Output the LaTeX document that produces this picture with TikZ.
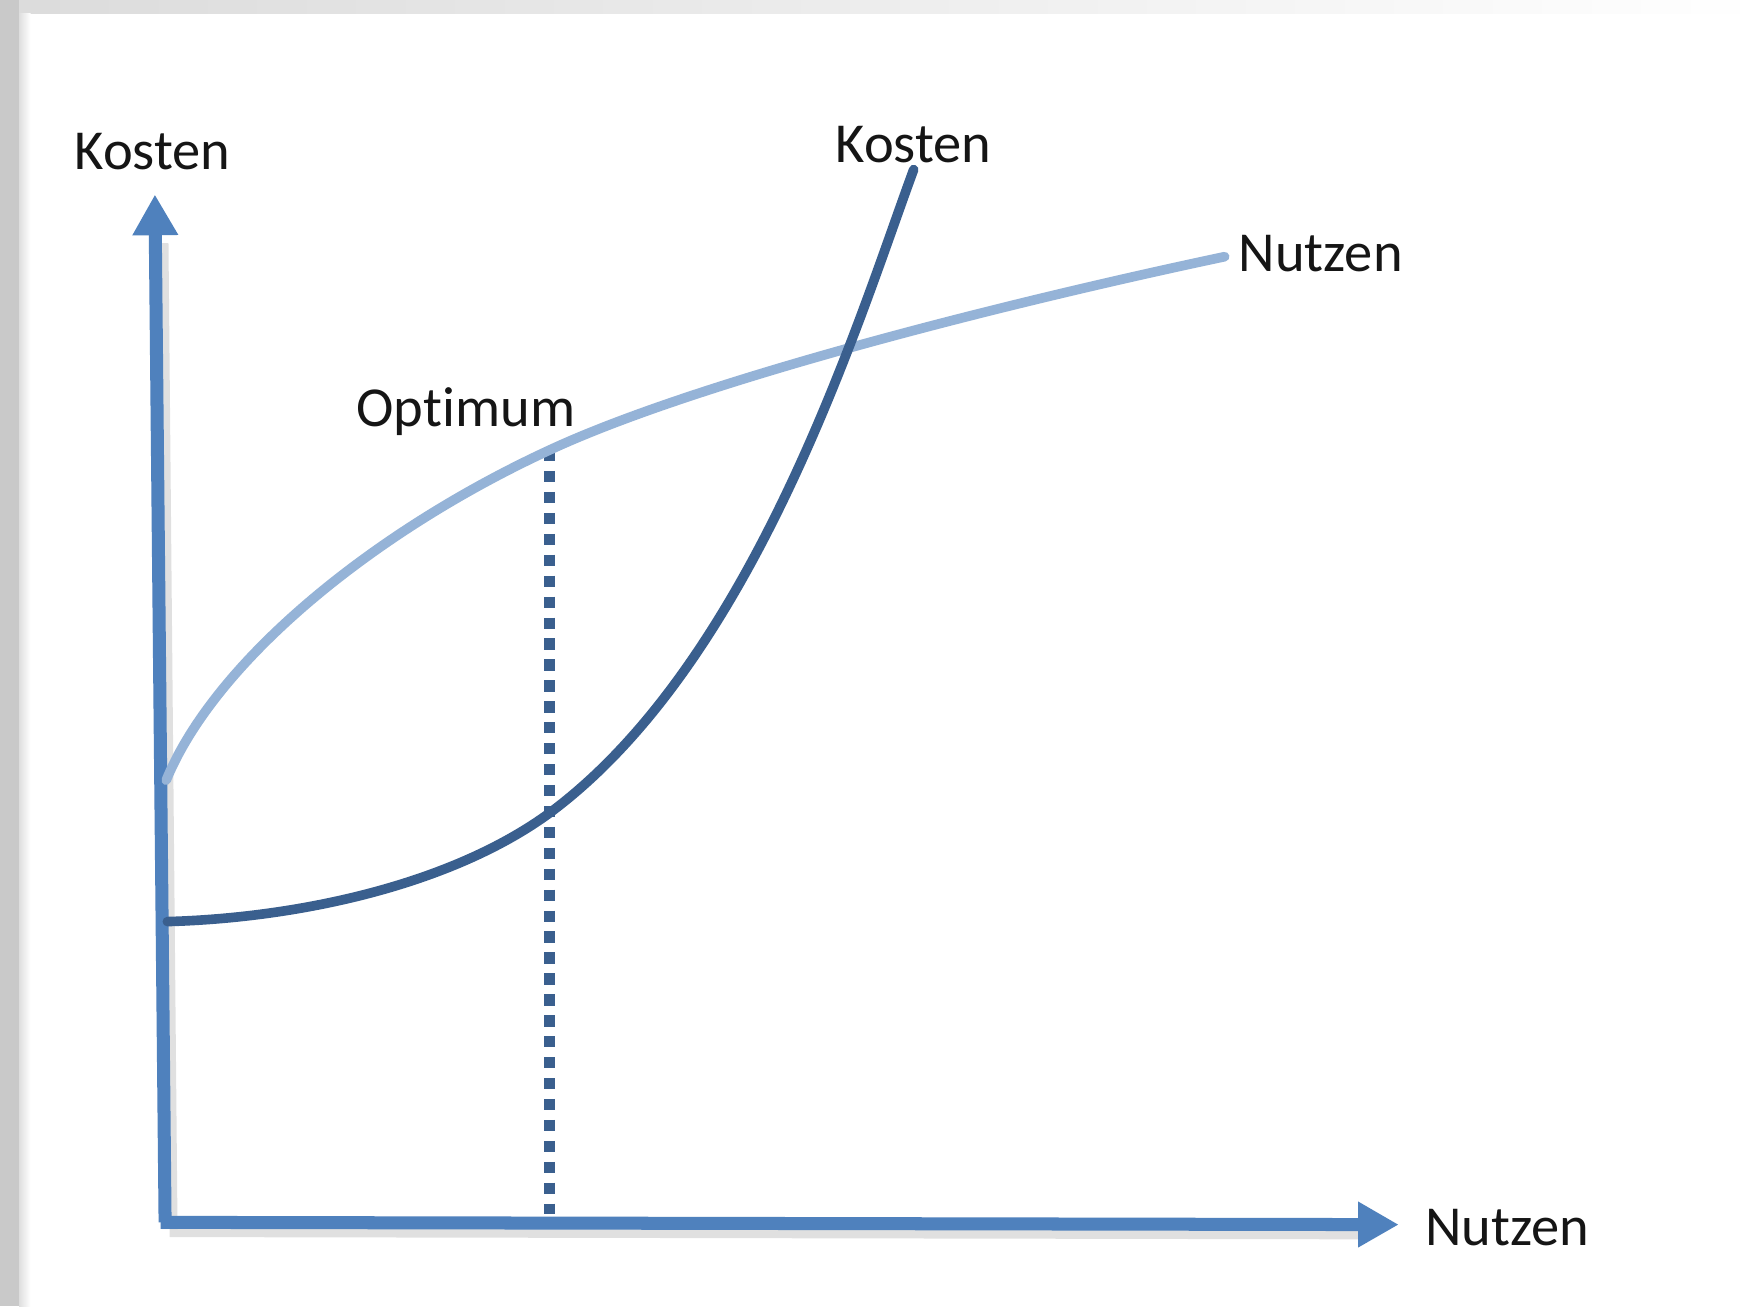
\documentclass[tikz,border=0pt]{standalone}
\usepackage{fontspec}
\setmainfont{Carlito}[Ligatures=NoCommon]
\usetikzlibrary{arrows.meta}
\definecolor{axisblue}{HTML}{4F81BD}
\definecolor{costblue}{HTML}{3A5F8E}
\definecolor{benefitblue}{HTML}{95B3D7}
\definecolor{txt}{HTML}{151515}
\tikzset{
  axisline/.style={draw=axisblue, line width=0.115cm, -{Triangle[length=0.36cm, width=0.38cm]}},
  axisshadow/.style={draw=black, opacity=0.12, line width=0.14cm},
  costline/.style={draw=costblue, line width=0.085cm, line cap=round},
  benefitline/.style={draw=benefitblue, line width=0.085cm, line cap=round},
  optline/.style={draw=costblue, line width=0.095cm, dash pattern=on 0.1cm off 0.085cm},
  lbl/.style={text=txt, font=\fontsize{14.2pt}{17pt}\selectfont, inner sep=0pt}
}
\begin{document}
\begin{tikzpicture}[x=0.01cm, y=-0.01cm]
\useasboundingbox (0,0) rectangle (1560,1155);
\fill[white] (0,0) rectangle (1560,1155);
% window frame
\shade[left color=gray!28, right color=white] (0,0) rectangle (1560,12);
\fill[gray!42] (0,0) rectangle (17,1155);
\shade[left color=gray!25, right color=white] (17,12) rectangle (27,1155);
% coordinates
\coordinate (O) at (146,1081);
\coordinate (ytip) at (137,172);
\coordinate (xtip) at (1237,1083);
\coordinate (optTop) at (486,398);
\coordinate (optBot) at (486,1074);
% shadows
\draw[axisshadow] (150,1087) -- (1205,1089);
\draw[axisshadow] (150,1087) -- (142,215);
% axes
\draw[axisline] (O) -- (ytip);
\draw[axisline] (142,1081) -- (xtip);
% optimum line
\draw[optline] (optTop) -- (optBot);
% benefit curve
\draw[benefitline] (147,690) .. controls (190,585) and (330,470) .. (optTop)
  .. controls (615,338) and (880,270) .. (1083,227);
% cost curve
\draw[costline] (148,815) .. controls (260,812) and (397,784) .. (486,719)
  .. controls (668,584) and (760,280) .. (808,150);
% labels
\node[lbl] (kostenAxis) at (135,134) {Kosten};
\node[lbl] (nutzenAxis) at (1333,1086) {Nutzen};
\node[lbl] (kostenCurve) at (808,128) {Kosten};
\node[lbl] (nutzenCurve) at (1168,224) {Nutzen};
\node[lbl] (optimum) at (412,364) {Optimum};
\end{tikzpicture}
\end{document}
